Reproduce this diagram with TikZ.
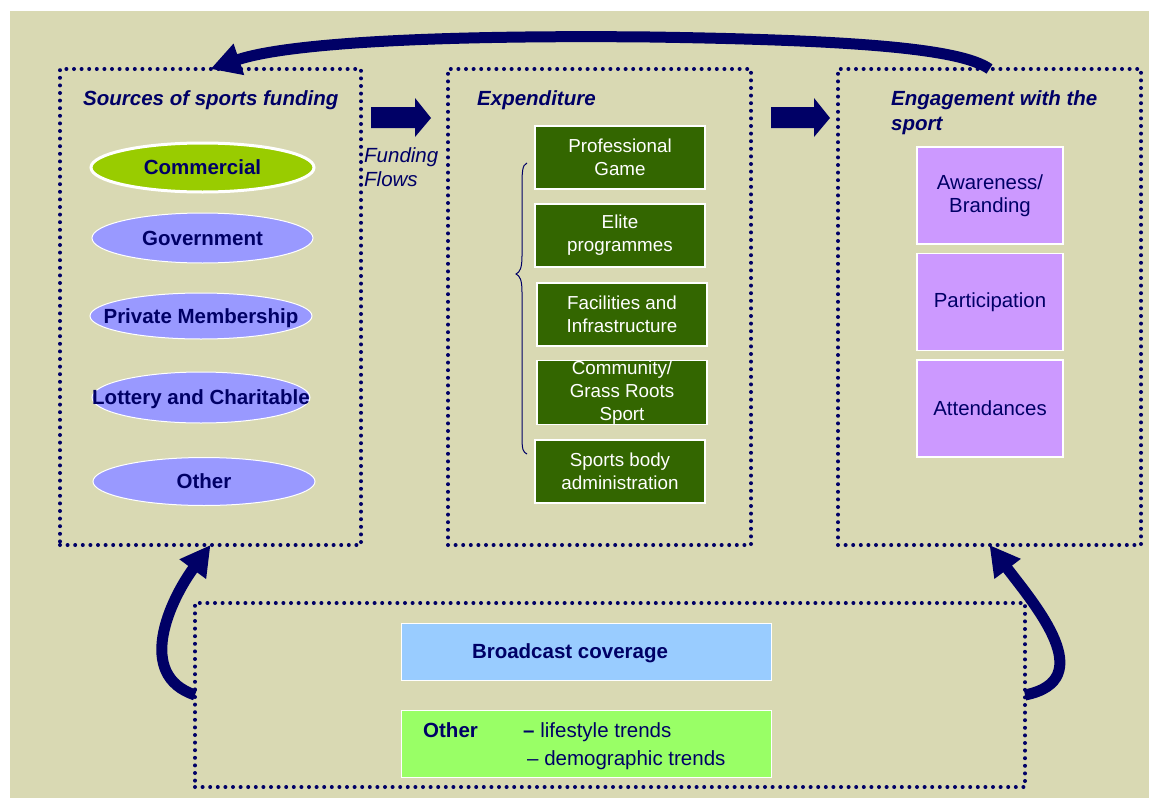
\documentclass[tikz,border=0pt]{standalone}
\usepackage{fontspec}
\setmainfont{Liberation Sans}
\usetikzlibrary{shapes.geometric,arrows.meta}
\definecolor{bg}{RGB}{217,217,179}
\definecolor{navy}{RGB}{0,0,102}
\definecolor{comgreen}{RGB}{153,204,0}
\definecolor{ellblue}{RGB}{153,153,255}
\definecolor{dgreen}{RGB}{51,102,0}
\definecolor{purp}{RGB}{204,153,255}
\definecolor{lblue}{RGB}{153,204,255}
\definecolor{lgreen}{RGB}{153,255,102}
\begin{document}
\begin{tikzpicture}[x=1pt,y=-1pt,
  dotbox/.style={rectangle, draw=navy, line width=4pt, dash pattern=on 0pt off 7.6pt, line cap=round, anchor=north west, inner sep=0pt, outer sep=0pt},
  ttl/.style={anchor=base west, inner sep=0pt, text=navy, font=\fontsize{20.5}{25}\selectfont\bfseries\itshape, align=left},
  ell/.style={ellipse, draw=white, line width=1pt, fill=ellblue, inner sep=0pt, text height=14.7pt, text depth=0pt, text=navy, font=\fontsize{20.5}{25}\selectfont\bfseries},
  gbox/.style={rectangle, draw=white, line width=1.2pt, fill=dgreen, text=white, align=center, font=\fontsize{18.8}{23}\selectfont, minimum width=170pt, minimum height=63pt, inner sep=0pt},
  pbox/.style={rectangle, draw=white, line width=1.2pt, fill=purp, text=navy, align=center, font=\fontsize{20.4}{23}\selectfont, minimum width=146pt, minimum height=97pt, inner sep=0pt},
  bbox/.style={rectangle, draw=white, line width=1.2pt, minimum width=370pt, inner sep=0pt},
  flowarrow/.style={draw=navy, line width=11pt, -{Triangle[length=30pt,width=31pt]}},
  blockarrow/.style={fill=navy},
  plain/.style={inner sep=0pt, text=navy, font=\fontsize{20.5}{25}\selectfont}
]
\useasboundingbox (0,0) rectangle (1149,798);
\fill[bg] (10,11) rectangle (1149,798);

% dotted containers
\node[dotbox, minimum width=301pt, minimum height=476pt] (src) at (60,69) {};
\node[dotbox, minimum width=303pt, minimum height=476pt] (exp) at (448,69) {};
\node[dotbox, minimum width=303pt, minimum height=476pt] (eng) at (838,69) {};
\node[dotbox, minimum width=830pt, minimum height=184pt] (ext) at (195,603) {};

% titles
\node[ttl] (tsrc) at (83,105) {Sources of sports funding};
\node[ttl] (texp) at (477,105) {Expenditure};
\node[ttl] (teng) at (891,130) {Engagement with the\\sport};

% funding ellipses
\node[ell, fill=comgreen, line width=3pt, minimum width=223pt, minimum height=49pt] (com) at (202.5,167.5) {\makebox[0pt]{Commercial}};
\node[ell, minimum width=221pt, minimum height=50pt] (gov) at (202.5,238) {\makebox[0pt]{Government}};
\node[ell, minimum width=222pt, minimum height=46pt] (pri) at (201,316) {\makebox[0pt]{Private Membership}};
\node[ell, minimum width=218pt, minimum height=51pt] (lot) at (201,397.5) {\makebox[0pt]{Lottery and Charitable}};
\node[ell, minimum width=222pt, minimum height=48pt] (oth) at (204,481.5) {\makebox[0pt]{Other}};

% block arrows
\fill[blockarrow] (371,107) -- (415,107) -- (415,98) -- (431,118) -- (415,137) -- (415,128) -- (371,128) -- cycle;
\fill[blockarrow] (771,107) -- (814,107) -- (814,98) -- (830,118) -- (814,137) -- (814,128) -- (771,128) -- cycle;
\node[plain, font=\fontsize{20.5}{24}\selectfont\itshape, align=left, anchor=base west] (ff) at (364,186) {Funding\\Flows};

% expenditure boxes
\node[gbox] (pro) at (620,157.5) {Professional\\Game};
\node[gbox] (eli) at (620,235.5) {Elite\\programmes};
\node[gbox] (fac) at (622,314.5) {Facilities and\\Infrastructure};
\node[gbox] (cgr) at (622,392.5) {Community/\\Grass Roots\\Sport};
\node[gbox] (spb) at (620,471.5) {Sports body\\administration};

% brace
\draw[navy, line width=1pt] (527,163) .. controls (522,165) and (522,172) .. (522,190) -- (522,256) .. controls (522,268) and (520,272) .. (516,274) .. controls (520,276) and (522,280) .. (522,292) -- (522,436) .. controls (522,450) and (523,452) .. (527,454);

% engagement boxes
\node[pbox] (awa) at (990,195.5) {Awareness/\\Branding};
\node[pbox] (par) at (990,302) {Participation};
\node[pbox] (att) at (990,408.5) {Attendances};

% external factors
\node[bbox, fill=lblue, minimum height=57pt, anchor=north west] (bro) at (401,623) {};
\node[plain, font=\fontsize{20.5}{25}\selectfont\bfseries, anchor=base] (brot) at (570,658) {Broadcast coverage};
\node[bbox, fill=lgreen, minimum height=67pt, anchor=north west] (otb) at (401,710) {};
\node[plain, font=\fontsize{20.5}{25}\selectfont\bfseries, anchor=base west] (otht) at (423,737) {Other};
\node[plain, anchor=base west] (l1) at (523,737) {\textbf{–} lifestyle trends};
\node[plain, anchor=base west] (l2) at (527,765) {– demographic trends};

% flow arrows
\draw[flowarrow] (eng.north) .. controls (960,48) and (850,40) .. (650,37) .. controls (450,35) and (290,42) .. (src.north);
\draw[flowarrow] (ext.west) .. controls (135,675) and (170,600) .. (src.south);
\draw[flowarrow] (ext.east) .. controls (1100,680) and (1035,605) .. (eng.south);
\end{tikzpicture}
\end{document}
